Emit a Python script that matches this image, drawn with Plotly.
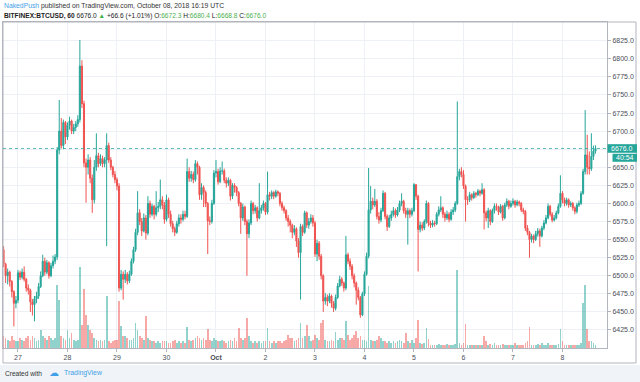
import pandas as pd
import plotly.graph_objects as go

# ---------------- data (hourly BITFINEX:BTCUSD) ----------------
first_open = 6536.0
start_time = "2018-09-26 17:00"

closes = [
    6516, 6500, 6505, 6492, 6478, 6462, 6466,  # Sep 26 17-23h
    6504, 6498, 6505, 6495, 6483, 6480, 6464, 6460, 6468, 6472, 6485, 6500, 6520, 6505, 6518, 6500, 6514, 6520, 6526, 6674, 6700, 6680, 6712, 6692,  # Sep 27
    6708, 6714, 6700, 6705, 6710, 6716, 6790, 6738, 6656, 6650, 6660, 6635, 6605, 6650, 6666, 6655, 6662, 6655, 6660, 6680, 6660, 6650, 6640, 6633,  # Sep 28
    6624, 6483, 6502, 6495, 6502, 6493, 6502, 6520, 6536, 6560, 6587, 6575, 6562, 6580, 6559, 6600, 6585, 6596, 6585, 6594, 6596, 6605, 6598, 6578,  # Sep 29
    6605, 6585, 6572, 6565, 6560, 6572, 6580, 6578, 6585, 6582, 6644, 6635, 6640, 6633, 6655, 6650, 6612, 6622, 6615, 6600, 6576, 6575, 6600, 6642,  # Sep 30
    6644, 6630, 6645, 6645, 6632, 6628, 6632, 6610, 6625, 6622, 6615, 6600, 6580, 6595, 6575, 6558, 6573, 6600, 6590, 6594, 6580, 6590, 6594, 6600,  # Oct 1
    6588, 6612, 6610, 6615, 6610, 6616, 6614, 6600, 6594, 6590, 6580, 6575, 6570, 6560, 6565, 6548, 6532, 6568, 6560, 6587, 6570, 6575, 6580, 6573,  # Oct 2
    6530, 6545, 6527, 6500, 6465, 6470, 6465, 6472, 6462, 6455, 6470, 6486, 6495, 6490, 6483, 6529, 6520, 6513, 6500, 6490, 6480, 6470, 6446, 6475,  # Oct 3
    6502, 6527, 6591, 6603, 6598, 6603, 6582, 6577, 6590, 6614, 6582, 6568, 6580, 6585, 6590, 6584, 6591, 6600, 6603, 6590, 6585, 6590, 6585, 6590,  # Oct 4
    6626, 6610, 6564, 6570, 6566, 6575, 6600, 6573, 6570, 6573, 6572, 6585, 6591, 6594, 6585, 6580, 6585, 6578, 6588, 6591, 6600, 6637, 6644, 6640,  # Oct 5
    6624, 6605, 6605, 6612, 6608, 6614, 6612, 6617, 6614, 6619, 6587, 6580, 6590, 6575, 6590, 6596, 6595, 6588, 6596, 6580, 6598, 6603, 6596, 6600,  # Oct 6
    6603, 6598, 6602, 6600, 6591, 6589, 6566, 6560, 6550, 6555, 6550, 6558, 6562, 6555, 6566, 6573, 6580, 6596, 6585, 6577, 6580, 6587, 6596, 6614,  # Oct 7
    6605, 6600, 6605, 6598, 6600, 6594, 6589, 6598, 6600, 6614, 6644, 6667, 6650, 6648, 6665, 6672.3, 6676.0,  # Oct 8 00-16h
]

highs = [
    6541, 6518, 6510, 6507, 6494, 6480, 6472,
    6508, 6507, 6510, 6513, 6497, 6488, 6482, 6468, 6472, 6478, 6490, 6506, 6529, 6525, 6522, 6520, 6518, 6528, 6530, 6678, 6743, 6718, 6716, 6714,
    6712, 6720, 6716, 6710, 6714, 6722, 6826, 6798, 6742, 6662, 6668, 6664, 6640, 6660, 6697, 6670, 6668, 6666, 6664, 6697, 6684, 6664, 6652, 6645,
    6636, 6628, 6508, 6506, 6508, 6505, 6507, 6524, 6540, 6565, 6617, 6592, 6580, 6586, 6584, 6610, 6604, 6600, 6598, 6617, 6602, 6633, 6610, 6602,
    6612, 6608, 6590, 6576, 6568, 6576, 6585, 6585, 6590, 6590, 6662, 6650, 6645, 6644, 6660, 6658, 6652, 6628, 6625, 6618, 6602, 6582, 6605, 6646,
    6660, 6648, 6650, 6658, 6648, 6636, 6636, 6634, 6628, 6628, 6624, 6617, 6602, 6600, 6597, 6578, 6578, 6604, 6602, 6598, 6596, 6628, 6598, 6604,
    6602, 6644, 6616, 6618, 6617, 6619, 6618, 6616, 6603, 6597, 6592, 6584, 6578, 6572, 6570, 6567, 6552, 6572, 6571, 6590, 6589, 6580, 6585, 6584,
    6576, 6550, 6548, 6530, 6502, 6476, 6474, 6476, 6474, 6465, 6474, 6490, 6500, 6498, 6492, 6555, 6532, 6524, 6516, 6503, 6492, 6484, 6472, 6478,
    6506, 6532, 6649, 6624, 6608, 6620, 6606, 6588, 6594, 6618, 6616, 6585, 6584, 6590, 6595, 6593, 6595, 6604, 6614, 6605, 6594, 6594, 6593, 6594,
    6628, 6627, 6612, 6575, 6574, 6578, 6604, 6602, 6576, 6577, 6576, 6588, 6596, 6610, 6596, 6588, 6590, 6588, 6592, 6595, 6603, 6741, 6648, 6650,
    6646, 6626, 6610, 6616, 6614, 6617, 6616, 6620, 6619, 6628, 6621, 6590, 6594, 6592, 6593, 6600, 6600, 6597, 6599, 6598, 6601, 6607, 6605, 6604,
    6607, 6605, 6605, 6604, 6602, 6594, 6591, 6570, 6562, 6558, 6557, 6562, 6566, 6565, 6569, 6577, 6584, 6600, 6598, 6588, 6584, 6590, 6600, 6639,
    6617, 6608, 6608, 6607, 6603, 6602, 6596, 6601, 6604, 6617, 6648, 6729, 6695, 6672, 6697, 6680, 6680.4,
]

lows = [
    6512, 6490, 6488, 6485, 6470, 6430, 6455,
    6462, 6494, 6495, 6492, 6478, 6474, 6450, 6445, 6437, 6462, 6468, 6483, 6498, 6500, 6502, 6496, 6498, 6510, 6516, 6522, 6668, 6676, 6675, 6682,
    6688, 6702, 6696, 6696, 6700, 6706, 6712, 6732, 6650, 6601, 6640, 6628, 6587, 6600, 6645, 6650, 6652, 6650, 6650, 6541, 6656, 6646, 6636, 6628,
    6618, 6478, 6480, 6467, 6490, 6488, 6490, 6500, 6517, 6533, 6556, 6570, 6555, 6560, 6550, 6556, 6580, 6582, 6578, 6582, 6588, 6592, 6592, 6572,
    6575, 6580, 6568, 6560, 6555, 6558, 6568, 6572, 6575, 6578, 6580, 6630, 6630, 6628, 6630, 6640, 6605, 6605, 6595, 6595, 6530, 6570, 6572, 6598,
    6636, 6626, 6628, 6640, 6628, 6622, 6624, 6604, 6606, 6615, 6610, 6596, 6558, 6576, 6570, 6500, 6552, 6570, 6585, 6586, 6575, 6578, 6586, 6590,
    6584, 6585, 6604, 6606, 6606, 6608, 6610, 6596, 6590, 6586, 6576, 6568, 6560, 6552, 6556, 6540, 6525, 6467, 6555, 6558, 6566, 6565, 6572, 6568,
    6526, 6520, 6522, 6495, 6450, 6460, 6458, 6462, 6456, 6450, 6452, 6468, 6484, 6486, 6478, 6480, 6516, 6508, 6495, 6484, 6460, 6466, 6442, 6444,
    6472, 6500, 6524, 6586, 6592, 6595, 6578, 6572, 6574, 6588, 6578, 6562, 6566, 6576, 6582, 6580, 6582, 6588, 6596, 6586, 6580, 6543, 6580, 6582,
    6588, 6605, 6506, 6560, 6562, 6563, 6572, 6568, 6566, 6567, 6568, 6570, 6582, 6588, 6580, 6575, 6577, 6574, 6576, 6584, 6588, 6598, 6632, 6636,
    6620, 6575, 6598, 6602, 6604, 6606, 6608, 6610, 6610, 6612, 6564, 6575, 6566, 6570, 6573, 6586, 6590, 6584, 6586, 6576, 6578, 6595, 6592, 6594,
    6597, 6594, 6596, 6596, 6588, 6585, 6562, 6556, 6525, 6546, 6545, 6548, 6554, 6540, 6553, 6563, 6571, 6578, 6582, 6574, 6575, 6578, 6585, 6594,
    6600, 6596, 6597, 6594, 6595, 6590, 6585, 6586, 6595, 6598, 6612, 6640, 6640, 6640, 6645, 6660, 6668.8,
]

volumes = [
    370, 300, 250, 200, 350, 250, 200,
    200, 300, 250, 200, 300, 350, 250, 350, 300, 200, 250, 550, 350, 300, 250, 350, 300, 250, 300, 1900, 1450, 350, 300, 250,
    550, 300, 450, 250, 200, 250, 2430, 700, 1770, 1000, 700, 550, 450, 300, 250, 200, 250, 200, 250, 1550, 200, 150, 200, 250,
    250, 1400, 650, 350, 350, 300, 250, 250, 300, 750, 550, 350, 300, 250, 950, 300, 250, 200, 200, 150, 200, 150, 200, 200,
    200, 150, 150, 200, 250, 150, 200, 150, 200, 150, 620, 250, 200, 250, 300, 350, 300, 250, 300, 250, 570, 250, 200, 300,
    250, 200, 200, 250, 200, 150, 200, 250, 200, 300, 200, 600, 300, 250, 300, 900, 350, 200, 150, 200, 150, 200, 150, 200,
    200, 600, 200, 150, 200, 150, 200, 200, 150, 200, 250, 400, 300, 300, 200, 250, 300, 750, 300, 350, 700, 350, 200, 250,
    400, 300, 250, 750, 850, 250, 200, 200, 250, 200, 470, 250, 300, 300, 250, 820, 400, 250, 300, 400, 500, 300, 350, 250,
    250, 200, 1870, 250, 200, 200, 250, 350, 300, 200, 200, 150, 200, 150, 200, 150, 200, 250, 200, 150, 450, 200, 150, 250,
    150, 300, 850, 150, 120, 150, 600, 280, 100, 80, 100, 80, 120, 100, 80, 100, 120, 80, 100, 80, 120, 2330, 150, 100,
    150, 720, 100, 80, 80, 100, 80, 80, 100, 80, 350, 200, 100, 120, 100, 150, 100, 80, 100, 120, 100, 80, 100, 80,
    100, 150, 80, 100, 80, 100, 150, 200, 630, 100, 80, 100, 120, 80, 150, 100, 80, 150, 100, 80, 100, 80, 120, 580,
    200, 100, 80, 100, 80, 100, 80, 100, 100, 150, 1350, 1900, 570, 220, 220, 150, 100,
]

day_ticks = ["2018-09-27", "2018-09-28", "2018-09-29", "2018-09-30", "2018-10-01", "2018-10-02",
             "2018-10-03", "2018-10-04", "2018-10-05", "2018-10-06", "2018-10-07", "2018-10-08"]
day_labels = ["27", "28", "29", "30", "<b>Oct</b>", "2", "3", "4", "5", "6", "7", "8"]
price_ticks = [6425, 6450, 6475, 6500, 6525, 6550, 6575, 6600, 6625, 6650, 6675, 6700,
               6725, 6750, 6775, 6800, 6825]
last_price = 6676.0
countdown = "40:54"

# ---------------- build ----------------
n = len(closes)
assert len(highs) == n and len(lows) == n and len(volumes) == n
times = pd.date_range(start_time, periods=n, freq="h")
opens = [first_open] + closes[:-1]

UP = "#26a69a"
DOWN = "#ef5350"
vol_colors = ["rgba(38,166,154,0.5)" if c >= o else "rgba(239,83,80,0.5)"
              for o, c in zip(opens, closes)]

fig = go.Figure()
fig.add_trace(go.Bar(
    x=times, y=volumes, yaxis="y2", marker=dict(color=vol_colors, line=dict(width=0)),
    width=0.8 * 3600 * 1000, hoverinfo="skip", showlegend=False,
))
fig.add_trace(go.Candlestick(
    x=times, open=opens, high=highs, low=lows, close=closes,
    increasing=dict(line=dict(color=UP, width=1), fillcolor=UP),
    decreasing=dict(line=dict(color=DOWN, width=1), fillcolor=DOWN),
    whiskerwidth=0, showlegend=False,
))

W, H = 640, 382
L, R, T, B = 3, 33, 22, 34
pw, ph = W - L - R, H - T - B
y_lo, y_hi = 6400.1, 6850.9
px_per_price = ph / (y_hi - y_lo)


def px(x):
    return (x - L) / pw


def py(y):
    return (H - B - y) / ph


def dprice(pixels):
    return pixels / px_per_price


grid = "#edf1f5"
axis_line = "#b2b5be"
txt = "#4a4f59"
font_family = "Liberation Sans, Arial, sans-serif"

fig.update_layout(
    width=W, height=H,
    margin=dict(l=L, r=R, t=T, b=B, pad=0),
    paper_bgcolor="white", plot_bgcolor="white",
    font=dict(family=font_family, size=7, color=txt),
    boxgap=0.25,
    bargap=0,
    xaxis=dict(
        type="date",
        range=["2018-09-26 16:44", "2018-10-08 21:35"],
        rangeslider=dict(visible=False),
        tickvals=day_ticks, ticktext=day_labels,
        showgrid=True, gridcolor=grid, gridwidth=1,
        showline=True, linecolor=axis_line, linewidth=1, mirror=True,
        ticks="outside", ticklen=3, tickcolor=axis_line,
        tickfont=dict(size=7, color=txt), zeroline=False,
    ),
    yaxis=dict(
        side="right", range=[y_lo, y_hi],
        tickvals=price_ticks, tickformat=".1f",
        showgrid=True, gridcolor=grid, gridwidth=1,
        showline=True, linecolor=axis_line, linewidth=1, mirror=True,
        ticks="outside", ticklen=3, tickcolor=axis_line,
        tickfont=dict(size=7, color=txt), zeroline=False,
    ),
    yaxis2=dict(overlaying="y", range=[0, 9780], visible=False, showgrid=False),
    showlegend=False,
)

shapes = [
    # footer strip
    dict(type="rect", xref="paper", yref="paper", x0=px(0), x1=px(W), y0=py(365), y1=py(H),
         fillcolor="#f0f3f7", line=dict(width=0), layer="below"),
    # outer frame
    dict(type="rect", xref="paper", yref="paper", x0=px(3), x1=px(636), y0=py(363), y1=py(22),
         line=dict(color=axis_line, width=1), fillcolor="rgba(0,0,0,0)"),
    # last price dotted line
    dict(type="line", xref="paper", yref="y", x0=0, x1=1, y0=last_price, y1=last_price,
         line=dict(color="rgba(38,166,154,0.75)", width=1, dash="dot")),
    # last price label box
    dict(type="rect", xref="paper", yref="y", x0=px(607.5), x1=px(637),
         y0=last_price - dprice(4.3), y1=last_price + dprice(4.3),
         fillcolor=UP, line=dict(width=0)),
    # countdown box
    dict(type="rect", xref="paper", yref="y", x0=px(612.5), x1=px(637),
         y0=last_price - dprice(13.3), y1=last_price - dprice(5.3),
         fillcolor=UP, line=dict(width=0)),
]
fig.update_layout(shapes=shapes)

annotations = [
    dict(xref="paper", yref="paper", x=px(2), y=py(6), xanchor="left", yanchor="middle",
         showarrow=False, font=dict(size=6.8, color="#333"),
         text='<span style="color:#3f9fe8">NakedPush</span> published on TradingView.com, October 08, 2018 16:19 UTC'),
    dict(xref="paper", yref="paper", x=px(2), y=py(16), xanchor="left", yanchor="middle",
         showarrow=False, font=dict(size=6.6, color="#222"),
         text=('<b>BITFINEX:BTCUSD, 60</b> 6676.0 <span style="color:#3cb043">▲</span> +66.6 (+1.01%) '
               'O:<span style="color:#4caf50">6672.3</span> H:<span style="color:#4caf50">6680.4</span> '
               'L:<span style="color:#4caf50">6668.8</span> C:<span style="color:#4caf50">6676.0</span>')),
    dict(xref="paper", yref="y", x=px(622), y=last_price, xanchor="center", yanchor="middle",
         showarrow=False, font=dict(size=7, color="white"), text=f"{last_price:.1f}"),
    dict(xref="paper", yref="y", x=px(624.5), y=last_price - dprice(9.3), xanchor="center",
         yanchor="middle", showarrow=False, font=dict(size=7, color="white"), text=countdown),
    dict(xref="paper", yref="paper", x=px(3), y=py(373), xanchor="left", yanchor="middle",
         showarrow=False, font=dict(size=6.6, color="#333"), text="Created with"),
    dict(xref="paper", yref="paper", x=px(47), y=py(372), xanchor="left", yanchor="middle",
         showarrow=False, font=dict(size=10, color="#3f9fe8", family="DejaVu Sans"), text="☁"),
    dict(xref="paper", yref="paper", x=px(62), y=py(373), xanchor="left", yanchor="middle",
         showarrow=False, font=dict(size=6.9, color="#3f9fe8"), text="TradingView"),
]
fig.update_layout(annotations=annotations)

fig.write_html("out.html", config={"displayModeBar": False},
               post_script="document.body.style.margin='0px';document.body.style.padding='0px';")
